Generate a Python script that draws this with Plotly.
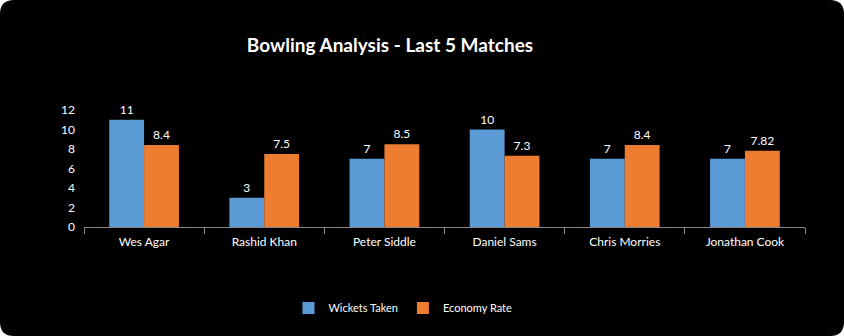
import plotly.graph_objects as go

players = ["Wes Agar", "Rashid Khan", "Peter Siddle", "Daniel Sams", "Chris Morries", "Jonathan Cook"]
wickets = [11, 3, 7, 10, 7, 7]
economy = [8.4, 7.5, 8.5, 7.3, 8.4, 7.82]
y_ticks = [0, 2, 4, 6, 8, 10, 12]

FONT = "Lato, 'Liberation Sans', sans-serif"
BLUE = "#5b9bd5"
ORANGE = "#ed7d31"

fig = go.Figure()
fig.add_trace(go.Bar(
    x=players, y=wickets, name="Wickets Taken", marker=dict(color=BLUE, line=dict(width=0)),
    text=[str(v) for v in wickets], textposition="outside",
    textfont=dict(color="white", size=12, family=FONT), cliponaxis=False,
))
fig.add_trace(go.Bar(
    x=players, y=economy, name="Economy Rate", marker=dict(color=ORANGE, line=dict(width=0)),
    text=[str(v) for v in economy], textposition="outside",
    textfont=dict(color="white", size=12, family=FONT), cliponaxis=False,
))

W, H = 844, 336
ml, mr, mt, mb = 84, 39, 110, 109
r = 14
left, right = -ml, W - ml
bottom, top = -mb, H - mb
path = (
    f"M {left + r},{top} L {right - r},{top} Q {right},{top} {right},{top - r} "
    f"L {right},{bottom + r} Q {right},{bottom} {right - r},{bottom} "
    f"L {left + r},{bottom} Q {left},{bottom} {left},{bottom + r} "
    f"L {left},{top - r} Q {left},{top} {left + r},{top} Z"
)

fig.update_layout(
    width=W, height=H,
    margin=dict(l=ml, r=mr, t=mt, b=mb),
    paper_bgcolor="white",
    plot_bgcolor="rgba(0,0,0,0)",
    barmode="group", bargap=0.42, bargroupgap=0,
    font=dict(family=FONT, color="white", size=12),
    title=dict(text="<b>Bowling Analysis - Last 5 Matches</b>",
               x=390 / W, xref="container", xanchor="center",
               y=1 - 45 / H, yref="container", yanchor="middle",
               font=dict(size=19, color="white", family=FONT)),
    legend=dict(orientation="h", xref="container", yref="container",
                x=403 / W, xanchor="center", y=1 - 308 / H, yanchor="middle",
                font=dict(size=11, color="white", family=FONT),
                bgcolor="rgba(0,0,0,0)", itemwidth=30),
    shapes=[dict(type="path", path=path, xref="paper", yref="paper",
                 xsizemode="pixel", ysizemode="pixel", xanchor=0, yanchor=0,
                 fillcolor="black", line=dict(width=0), layer="below")],
    xaxis=dict(showgrid=False, showline=True, linecolor="#868686", linewidth=1,
               ticks="outside", tickson="boundaries", ticklen=6, tickcolor="#868686",
               tickfont=dict(size=12, color="white"), zeroline=False,
               ticklabelstandoff=4),
    yaxis=dict(range=[0, 12], tickvals=y_ticks, showgrid=False, zeroline=False,
               showline=False, tickfont=dict(size=12, color="white"), ticklabelstandoff=8),
)

fig.write_html("out.html")
